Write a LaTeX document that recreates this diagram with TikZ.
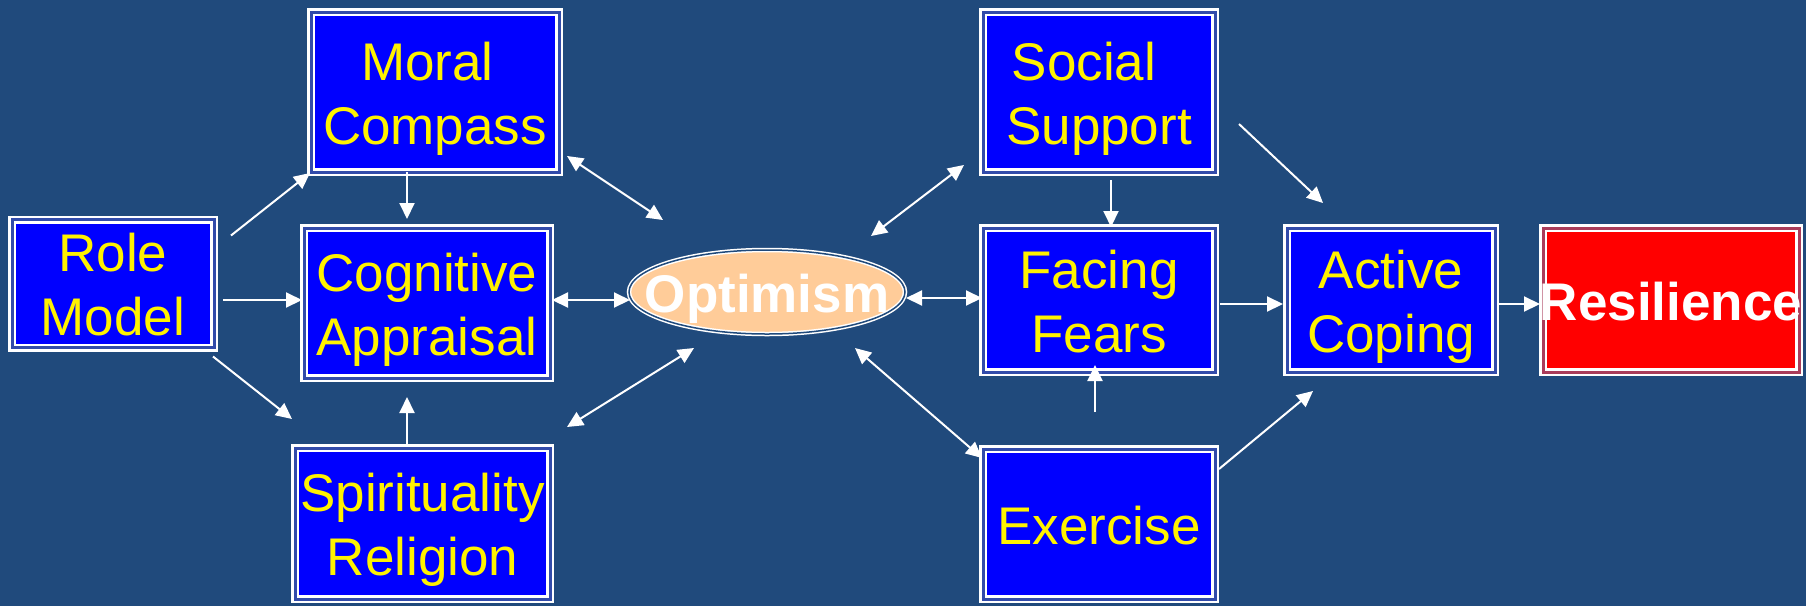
\documentclass[tikz,border=0pt]{standalone}
\usepackage{fontspec}
\setmainfont{Liberation Sans}
\usetikzlibrary{arrows.meta,shapes.geometric}
\definecolor{bgc}{RGB}{32,74,124}
\definecolor{boxblue}{RGB}{0,0,255}
\definecolor{gapc}{RGB}{50,75,170}
\definecolor{redgap}{RGB}{170,60,90}
\definecolor{peach}{RGB}{255,204,153}
\newcommand\bigfont{\fontsize{53}{64}\selectfont}
\newcommand\st{\rule[-12pt]{0pt}{64pt}}
\begin{document}
\begin{tikzpicture}[x=1pt,y=-1pt,
  box/.style={rectangle, draw=white, double=gapc, double distance=3pt, line width=2.5pt,
    fill=boxblue, text=yellow, font=\bigfont, align=center, inner sep=0pt, outer sep=0pt},
  redbox/.style={box, double=redgap, fill=red, text=white, font=\bigfont\bfseries},
  optstyle/.style={ellipse, draw=white, double=bgc, double distance=1.5pt, line width=1.5pt,
    fill=peach, text=white, font=\bigfont\bfseries, inner sep=0pt, outer sep=0pt,
    minimum width=276pt, minimum height=84pt, text height=40pt, text depth=0pt},
  arr/.style={draw=white, line width=2pt, -{Triangle[length=16pt,width=15pt]}},
  darr/.style={draw=white, line width=2pt, {Triangle[length=16pt,width=15pt]}-{Triangle[length=16pt,width=15pt]}},
]
\useasboundingbox (0,0) rectangle (1806,606);
\fill[bgc] (0,0) rectangle (1806,606);

\node[box, minimum width=202pt, minimum height=127pt] (rm) at (113,283.5) {\st Role\\\st Model};
\node[box, minimum width=248pt, minimum height=160pt] (mc) at (435,92) {\st Moral\hbox to 15pt{}\\\st Compass};
\node[box, minimum width=246pt, minimum height=150pt] (ca) at (427,303) {\st Cognitive\\\st Appraisal};
\node[box, minimum width=255pt, minimum height=151pt] (sr) at (422.5,523.5) {\st Spirituality\\\st Religion};
\node[optstyle] (opt) at (767,292) {\makebox[0pt]{Optimism}};
\node[box, minimum width=232pt, minimum height=160pt] (ss) at (1099,92) {\st Social\hbox to 30pt{}\\\st Support};
\node[box, minimum width=232pt, minimum height=144pt] (ff) at (1099,300) {\st Facing\\\st Fears};
\node[box, minimum width=232pt, minimum height=150pt] (ex) at (1099,524) {\st Exercise};
\node[box, minimum width=208pt, minimum height=144pt] (ac) at (1391,300) {\st Active\\\st Coping};
\node[redbox, minimum width=256pt, minimum height=144pt] (res) at (1671,300) {\st\makebox[0pt]{Resilience}};

\draw[arr] ([shift={(17,16)}]rm.north east) -- ([shift={(-1,1)}]mc.south west);
\draw[arr] ([shift={(9,16.5)}]rm.east) -- ([shift={(-2,-3)}]ca.west);
\draw[arr] ([shift={(-1,9)}]rm.south east) -- ([shift={(-3,-29)}]sr.north west);
\draw[arr] ([shift={(-28,0)}]mc.south) -- ([shift={(-20,-9)}]ca.north);
\draw[arr] ([shift={(-15.5,-4)}]sr.north) -- ([shift={(-20,19)}]ca.south);
\draw[darr] ([shift={(2,-3)}]ca.east) -- ([shift={(1,8)}]opt.west);
\draw[darr] ([shift={(8,-16)}]mc.south east) -- ([shift={(-104,-72)}]opt.center);
\draw[darr] ([shift={(17,-21)}]sr.north east) -- ([shift={(-73,56)}]opt.center);
\draw[darr] ([shift={(104,-56)}]opt.center) -- ([shift={(-19,-7)}]ss.south west);
\draw[darr] ([shift={(1,6)}]opt.east) -- ([shift={(-1,-2)}]ff.west);
\draw[darr] ([shift={(88,56)}]opt.center) -- ([shift={(-1,9)}]ex.north west);
\draw[arr] ([shift={(12,8)}]ss.south) -- ([shift={(12,-1)}]ff.north);
\draw[arr] ([shift={(24,32)}]ss.east) -- ([shift={(36,-25)}]ac.north west);
\draw[arr] ([shift={(5,4)}]ff.east) -- ([shift={(-4,4)}]ac.west);
\draw[arr] ([shift={(4,4)}]ac.east) -- ([shift={(-3,4)}]res.west);
\draw[arr] ([shift={(-4,-37)}]ex.north) -- ([shift={(-4,-7)}]ff.south);
\draw[arr] ([shift={(4,-55)}]ex.east) -- ([shift={(26,19)}]ac.south west);
\end{tikzpicture}
\end{document}
